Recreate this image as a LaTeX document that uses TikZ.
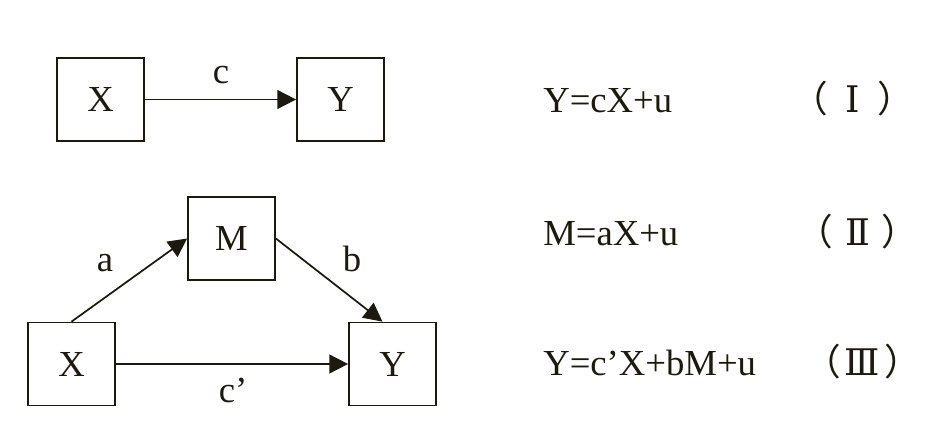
\documentclass[tikz,border=0pt]{standalone}
\usepackage{fontspec}
\setmainfont{Liberation Serif}
\newfontfamily\cjk{Noto Sans CJK SC}
\newfontfamily\rn{DejaVu Serif}
\usetikzlibrary{arrows.meta,calc}
\definecolor{ink}{RGB}{28,26,14}
\begin{document}
\begin{tikzpicture}[x=0.75pt,y=-0.75pt,
  every node/.style={text=ink,font=\fontsize{27.5}{30}\selectfont},
  varbox/.style={draw=ink,line width=1.3pt,minimum width=65.25pt,minimum height=62.25pt,inner sep=0pt},
  conn/.style={draw=ink,line width=1.3pt,-{Triangle[length=14pt,width=14pt]}},
  lbl/.style={anchor=base,inner sep=0pt},
  eq/.style={anchor=base west,inner sep=0pt},
  num/.style={anchor=base,inner sep=0pt}]
\useasboundingbox (0,0) rectangle (937,445);
% top model
\node[varbox] (tX) at (100.5,99.5) {X};
\node[varbox] (tY) at (340.5,99.5) {Y};
\draw[conn] (tX.east) -- (tY.west);
\node[lbl] (lc) at (221,84) {c};
% mediation model
\node[varbox] (M) at (231.5,238.5) {M};
\node[varbox] (bX) at (71.5,364) {X};
\node[varbox] (bY) at (392.5,364) {Y};
\draw[conn] (bX.north) -- (M.west);
\draw[conn] (M.east) -- ($(bY.north)+(-10,0)$);
\draw[conn] (bX.east) -- (bY.west);
\node[lbl] (la) at (105,271) {a};
\node[lbl] (lb) at (352,271) {b};
\node[lbl] (lcp) at (233,402) {c’};
% equations
\node[eq] (e1) at (543,113) {Y=cX+u};
\node[eq] (e2) at (543,245) {M=aX+u};
\node[eq] (e3) at (543,375) {Y=c’X+bM+u};
\node[num] (n1) at (852.5,113) {{\cjk （}\hspace{13pt}{\rn Ⅰ}\hspace{13pt}{\cjk ）}};
\node[num] (n2) at (857.5,245) {{\cjk （}\hspace{9pt}{\rn Ⅱ}\hspace{9pt}{\cjk ）}};
\node[num] (n3) at (862.5,375) {{\cjk （}\hspace{3pt}{\rn Ⅲ}\hspace{3pt}{\cjk ）}};
\end{tikzpicture}
\end{document}
